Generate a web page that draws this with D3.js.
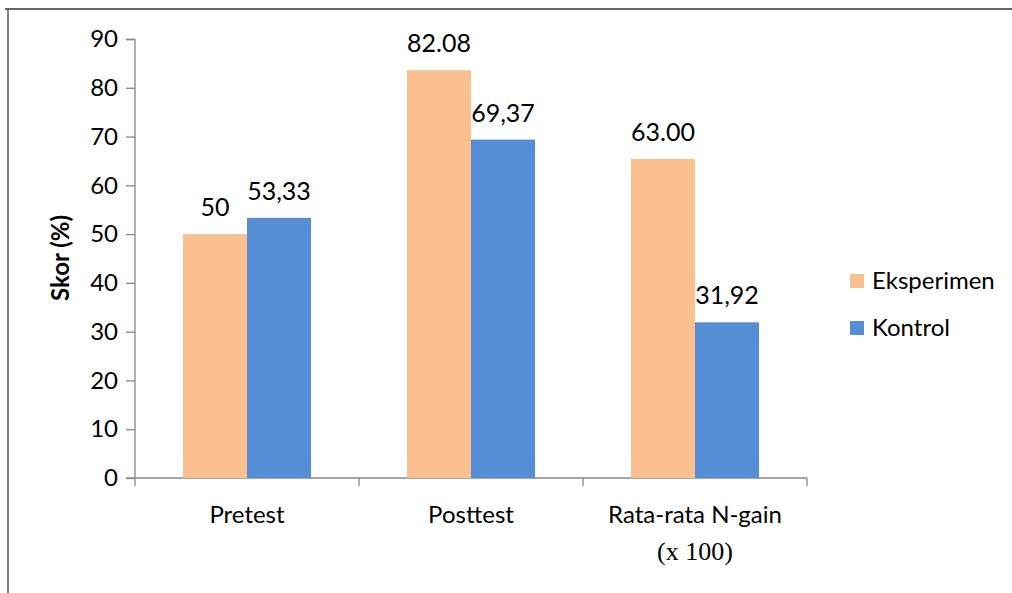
<!DOCTYPE html>
<html><head><meta charset="utf-8">
<script src="https://cdn.jsdelivr.net/npm/d3@7"></script>
<style>body{margin:0;background:#fff}svg{display:block}</style>
</head><body>
<script>
const categories = ["Pretest", "Posttest", "Rata-rata N-gain"];
const series = ["Eksperimen", "Kontrol"];
const eksperimen = [50, 83.6, 65.4];
const kontrol = [53.33, 69.37, 31.92];
const eksperimenLabels = ["50", "82.08", "63.00"];
const kontrolLabels = ["53,33", "69,37", "31,92"];
const yTicks = [0, 10, 20, 30, 40, 50, 60, 70, 80, 90];
const colors = ["#FAC090", "#558ED5"];

const W = 1012, H = 593;
const svg = d3.select("body").append("svg").attr("width", W).attr("height", H);
const font = "Lato, 'Open Sans', sans-serif";

// frame
svg.append("line").attr("x1", 5).attr("x2", W).attr("y1", 9).attr("y2", 9).attr("stroke", "#333").attr("stroke-width", 1.5);
svg.append("line").attr("x1", 8).attr("x2", 8).attr("y1", 9).attr("y2", H).attr("stroke", "#555").attr("stroke-width", 1.5);

const x0 = d3.scaleBand().domain(categories).range([135, 807]).padding(0);
const x1 = d3.scaleBand().domain(series).range([48, 176]).padding(0);
const y = d3.scaleLinear().domain([0, 90]).range([478, 39]);

// y axis
const yAxis = d3.axisLeft(y).tickValues(yTicks).tickSize(9).tickPadding(8);
const gy = svg.append("g").attr("transform", "translate(135,0)").call(yAxis);
gy.selectAll("line, path").attr("stroke", "#868686").attr("stroke-width", 1.3);
gy.select(".domain").attr("d", "M-9,39.5H0V478");
gy.selectAll("text").attr("font-family", font).attr("font-size", 24).attr("fill", "#000");

// x axis
const gx = svg.append("g").attr("transform", "translate(0,478)");
gx.append("line").attr("x1", 126).attr("x2", 807).attr("y1", 0).attr("y2", 0).attr("stroke", "#868686").attr("stroke-width", 1.3);
const bounds = categories.map(c => x0(c)).concat([x0(categories[2]) + x0.bandwidth()]);
gx.selectAll("line.t").data(bounds).join("line").attr("class", "t")
  .attr("x1", d => d).attr("x2", d => d).attr("y1", 0).attr("y2", 8)
  .attr("stroke", "#868686").attr("stroke-width", 1.3);
gx.selectAll("text.c").data(categories).join("text").attr("class", "c")
  .attr("x", d => x0(d) + x0.bandwidth() / 2).attr("y", 45)
  .attr("text-anchor", "middle").attr("font-family", font).attr("font-size", 24).attr("fill", "#000")
  .text(d => d);
gx.append("text").attr("x", x0(categories[2]) + x0.bandwidth() / 2).attr("y", 82)
  .attr("text-anchor", "middle").attr("font-family", "'Liberation Serif', 'DejaVu Serif', serif")
  .attr("font-size", 26).attr("fill", "#000").text("(x 100)");

// bars
const rows = categories.map((c, i) => ({c, vals: [eksperimen[i], kontrol[i]], labels: [eksperimenLabels[i], kontrolLabels[i]]}));
const g = svg.selectAll("g.grp").data(rows).join("g").attr("class", "grp")
  .attr("transform", d => `translate(${x0(d.c)},0)`);
g.selectAll("rect").data(d => d.vals.map((v, j) => ({s: series[j], v, j})))
  .join("rect")
  .attr("x", d => x1(d.s)).attr("width", x1.bandwidth())
  .attr("y", d => y(d.v)).attr("height", d => y(0) - y(d.v))
  .attr("fill", d => colors[d.j]);
g.selectAll("text").data(d => d.vals.map((v, j) => ({s: series[j], v, t: d.labels[j]})))
  .join("text")
  .attr("x", d => x1(d.s) + x1.bandwidth() / 2).attr("y", d => y(d.v) - 18)
  .attr("text-anchor", "middle").attr("font-family", font).attr("font-size", 25).attr("fill", "#000")
  .text(d => d.t);

// y title
svg.append("text").attr("transform", "translate(69,258) rotate(-90)")
  .attr("text-anchor", "middle").attr("font-family", font).attr("font-weight", "bold")
  .attr("font-size", 24).attr("fill", "#000").text("Skor (%)");

// legend
const lg = svg.selectAll("g.lg").data(series).join("g").attr("class", "lg")
  .attr("transform", (d, i) => `translate(850,${274 + i * 47})`);
lg.append("rect").attr("width", 14).attr("height", 14).attr("fill", (d, i) => colors[i]);
lg.append("text").attr("x", 22).attr("y", 7).attr("dy", "0.35em")
  .attr("font-family", font).attr("font-size", 24).attr("fill", "#000").text(d => d);
</script>
</body></html>
